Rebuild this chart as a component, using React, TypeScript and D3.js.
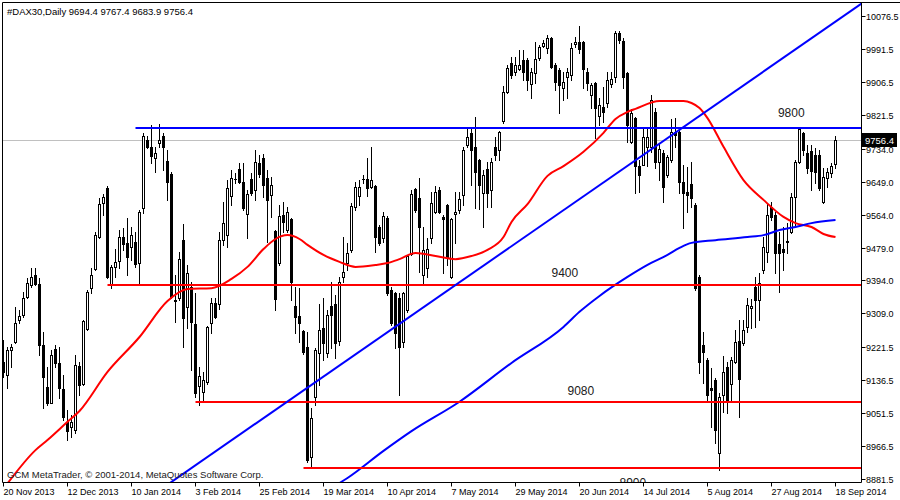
import React from 'react';
import * as d3 from 'd3';

// ---------- data ----------
const OPEN = [9183,9150,9215,9235,9292,9305,9351,9382,9408,9385,9227,9119,9078,9217,9181,9114,9029,9016,9008,9173,9127,9269,9374,9424,9506,9594,9633,9382,9429,9444,9506,9491,9480,9493,9439,9581,9757,9739,9710,9749,9767,9702,9669,9344,9349,9498,9325,9377,9282,9122,9106,9132,9284,9336,9334,9498,9511,9612,9656,9682,9648,9566,9656,9627,9697,9710,9658,9615,9522,9439,9563,9524,9553,9328,9302,9264,9222,8938,9093,9207,9271,9207,9328,9334,9238,9403,9439,9473,9584,9612,9656,9656,9635,9638,9532,9504,9555,9369,9362,9349,9235,9318,9462,9630,9607,9408,9426,9504,9571,9627,9558,9589,9403,9566,9576,9615,9744,9775,9739,9705,9620,9682,9627,9739,9731,9806,9880,9955,9932,9940,9963,9963,9901,9930,9968,9999,9994,10020,9950,9937,9891,9919,9924,10004,10009,10009,9932,9873,9904,9818,9842,9852,9901,9919,10033,10012,9930,9751,9813,9690,9692,9739,9739,9829,9700,9723,9666,9705,9777,9777,9648,9622,9643,9589,9403,9227,9189,9116,9137,8949,9098,9171,9127,9184,9238,9233,9274,9323,9377,9344,9421,9467,9584,9563,9488,9475,9496,9519,9609,9700,9775,9723,9728,9718,9718,9596,9658,9671,9694.4];
const HIGH = [9240,9222,9230,9325,9318,9364,9400,9426,9426,9400,9261,9171,9215,9227,9222,9150,9060,9047,9202,9184,9292,9369,9426,9519,9607,9617,9638,9434,9475,9524,9529,9555,9532,9519,9576,9775,9767,9795,9739,9798,9775,9731,9674,9408,9467,9540,9434,9390,9362,9171,9158,9277,9349,9349,9519,9596,9653,9679,9671,9697,9697,9627,9671,9731,9718,9720,9679,9661,9524,9589,9596,9584,9555,9377,9374,9266,9261,9065,9220,9334,9349,9318,9390,9357,9403,9506,9491,9594,9648,9653,9666,9710,9739,9641,9537,9571,9560,9377,9365,9362,9364,9460,9627,9633,9658,9532,9504,9622,9638,9635,9563,9592,9555,9622,9622,9739,9788,9788,9816,9707,9679,9700,9710,9764,9779,9896,9950,9971,9971,9989,9989,9968,9942,10009,10002,10015,10028,10022,9955,9942,9932,9942,10007,10022,10051,10012,9942,9904,9906,9865,9893,9932,9932,10038,10038,10020,9932,9837,9816,9705,9790,9790,9873,9839,9749,9731,9718,9811,9813,9782,9692,9687,9700,9594,9408,9261,9194,9168,9142,9104,9199,9184,9197,9266,9292,9292,9349,9346,9403,9413,9506,9594,9596,9571,9519,9532,9542,9620,9705,9788,9777,9744,9744,9736,9731,9684,9684,9697,9767.4];
const LOW = [9145,9116,9171,9233,9284,9300,9349,9377,9382,9202,9065,9073,9078,9171,9091,9034,8982,8990,9000,9098,9124,9266,9362,9421,9504,9563,9400,9374,9403,9426,9473,9408,9447,9429,9382,9568,9736,9697,9674,9739,9679,9602,9349,9287,9344,9222,9271,9163,9093,9073,9085,9127,9258,9297,9321,9486,9480,9589,9646,9646,9576,9504,9615,9602,9661,9609,9493,9558,9318,9434,9519,9519,9344,9258,9235,9205,8925,8910,9073,9124,9189,9197,9220,9194,9227,9390,9421,9467,9576,9589,9646,9612,9633,9467,9486,9493,9357,9279,9220,9098,9222,9313,9460,9571,9416,9382,9403,9491,9568,9568,9413,9434,9400,9491,9568,9589,9739,9641,9581,9579,9532,9584,9584,9705,9705,9800,9878,9917,9924,9937,9911,9886,9865,9904,9963,9997,9981,9942,9886,9826,9860,9865,9911,9997,9981,9891,9886,9839,9762,9795,9803,9842,9893,9906,10007,9891,9751,9749,9620,9622,9692,9690,9726,9684,9653,9596,9661,9700,9739,9620,9529,9571,9584,9369,9155,9129,9080,9016,8974,8905,9055,9052,9080,9181,9042,9227,9261,9271,9274,9292,9413,9442,9550,9413,9364,9421,9465,9517,9537,9697,9718,9671,9627,9646,9627,9594,9635,9661,9683.9];
const CLOSE = [9158,9215,9222,9284,9302,9349,9388,9403,9385,9227,9145,9078,9202,9181,9116,9042,9005,9029,9176,9124,9289,9364,9408,9511,9591,9609,9403,9429,9442,9506,9488,9455,9511,9437,9571,9767,9739,9715,9723,9757,9739,9648,9351,9341,9449,9297,9413,9287,9104,9147,9137,9274,9336,9300,9498,9542,9633,9658,9655,9648,9581,9617,9620,9700,9669,9641,9602,9641,9346,9560,9545,9571,9390,9300,9284,9210,8930,9039,9215,9266,9233,9305,9305,9233,9390,9416,9465,9586,9635,9635,9655,9633,9653,9506,9491,9560,9362,9284,9258,9222,9362,9457,9617,9576,9532,9473,9475,9594,9622,9571,9553,9455,9553,9571,9604,9731,9764,9731,9674,9641,9666,9620,9700,9718,9777,9880,9942,9924,9950,9950,9932,9911,9932,9966,9997,10007,10020,9945,9906,9899,9906,9932,9994,10009,9991,9940,9904,9899,9839,9847,9829,9911,9914,10033,10015,9919,9795,9826,9690,9666,9764,9764,9860,9700,9733,9635,9713,9777,9770,9648,9620,9615,9607,9374,9184,9210,9098,9111,9008,9093,9158,9083,9189,9235,9140,9266,9331,9328,9344,9388,9480,9563,9558,9465,9465,9467,9493,9609,9700,9785,9731,9684,9676,9674,9633,9661,9674,9690,9756.4];

const DATE_LABELS = ['20 Nov 2013','12 Dec 2013','10 Jan 2014','3 Feb 2014','25 Feb 2014','19 Mar 2014','10 Apr 2014','7 May 2014','29 May 2014','20 Jun 2014','14 Jul 2014','5 Aug 2014','27 Aug 2014','18 Sep 2014'];
const DATE_STEP = 16;
const PRICE_TICKS = [10076.5,9991.5,9906.5,9821.5,9734.0,9649.0,9564.0,9479.0,9394.0,9309.0,9221.5,9136.5,9051.5,8966.5,8881.5];

const RED_MA_BARS = [1,8,11,16,19,26,34,41,46,52,57,61,65,68,71,74,76,80,84,88,93,96,99,103,108,113,117,121,125,127,131,136,140,145,150,153,156,158,164,170,172,174,176,180,185,190,195,198,202,205,208];
const RED_MA_VALUES = [8870,8956,8982,9029,9057,9158,9248,9341,9372,9374,9398,9429,9475,9501,9511,9501,9486,9460,9442,9429,9434,9439,9449,9465,9457,9449,9457,9473,9506,9545,9591,9664,9689,9726,9775,9811,9829,9837,9857,9857,9852,9839,9813,9739,9653,9602,9558,9542,9532,9514,9506];
const BLUE_MA_BARS = [84,86,95,102,114,127,140,144,149,156,161,166,169,172,178,186,190,194,198,202,208];
const BLUE_MA_VALUES = [8871,8884,8954,9005,9081,9181,9274,9313,9354,9403,9434,9460,9478,9491,9498,9506,9511,9524,9532,9542,9550];

const TREND_BARS = [42, 214];
const TREND_PRICES = [8874, 10105];

const LEVEL_PRICES = [9787.5, 9381, 9080, 8910];
const LEVEL_START_BARS = [33, 26, 48, 75];
const LEVEL_COLORS = ['#0000ff', '#ff0000', '#ff0000', '#ff0000'];
const LABEL_TEXTS = ['9800', '9400', '9080', '8900'];
const LABEL_BARS = [193.6, 137, 141, 154];
const LABEL_PRICES = [9816, 9403, 9098, 8862];

const TITLE = '#DAX30,Daily  9694.4 9767.4 9683.9 9756.4';
const COPYRIGHT = 'GCM MetaTrader, \u00a9 2001-2014, MetaQuotes Software Corp.';

// ---------- layout ----------
const W = 900, H = 500;
const L = 2.5, T = 2.5, R = 861.5, B = 482.5;
const FONT = '"Liberation Sans", Arial, sans-serif';

export default function App() {
  const n = OPEN.length;
  const x = d3.scaleLinear().domain([0, n - 1]).range([3.5, 3.5 + 4 * (n - 1)]);
  const y = d3.scaleLinear().domain([8881.5, 10076.5]).range([479, 16.04]);
  const last = CLOSE[n - 1];

  const maLine = d3.line<[number, number]>()
    .x(d => x(d[0]))
    .y(d => y(d[1]))
    .curve(d3.curveMonotoneX);
  const redPts = RED_MA_BARS.map((b, i) => [b, RED_MA_VALUES[i]] as [number, number]);
  const bluePts = BLUE_MA_BARS.map((b, i) => [b, BLUE_MA_VALUES[i]] as [number, number]);

  const slope = (TREND_PRICES[1] - TREND_PRICES[0]) / (TREND_BARS[1] - TREND_BARS[0]);
  const tb0 = TREND_BARS[0] - 20, tb1 = TREND_BARS[1] + 20;
  const tp = (b: number) => TREND_PRICES[0] + slope * (b - TREND_BARS[0]);

  const candles = OPEN.map((o, i) => {
    const c = CLOSE[i];
    const cx = Math.round(x(i) - 0.5) + 0.5;
    const yH = Math.round(y(HIGH[i]));
    const yL = Math.round(y(LOW[i]));
    const yO = Math.round(y(o));
    const yC = Math.round(y(c));
    const top = Math.min(yO, yC), bot = Math.max(yO, yC);
    const bull = c >= o;
    return (
      <g key={i}>
        <line x1={cx} x2={cx} y1={yH} y2={yL + 1} stroke="#000" strokeWidth={1} />
        {bot - top < 1 ? (
          <line x1={cx - 1.5} x2={cx + 1.5} y1={top + 0.5} y2={top + 0.5} stroke="#000" strokeWidth={1} />
        ) : bull ? (
          <rect x={cx - 1} y={top + 0.5} width={2} height={bot - top} fill="#fff" stroke="#000" strokeWidth={1} />
        ) : (
          <rect x={cx - 1.5} y={top} width={3} height={bot - top + 1} fill="#000" />
        )}
      </g>
    );
  });

  const yLast = Math.round(y(last)) + 0.5;

  return (
    <svg width={W} height={H} style={{ position: 'absolute', left: 0, top: 0, background: '#fff' }}
      fontFamily={FONT}>
      <defs>
        <clipPath id="plot">
          <rect x={L} y={T} width={R - L} height={B - T} />
        </clipPath>
      </defs>
      <rect x={0} y={0} width={W} height={H} fill="#fff" />
      {/* bid line */}
      <line x1={L} x2={R} y1={yLast} y2={yLast} stroke="#c0c0c0" strokeWidth={1} />
      <g clipPath="url(#plot)">
        {candles}
        <path d={maLine(redPts) || ''} fill="none" stroke="#ff0000" strokeWidth={2} />
        <path d={maLine(bluePts) || ''} fill="none" stroke="#0000ff" strokeWidth={2} />
        {LEVEL_PRICES.map((p, i) => {
          const yy = Math.round(y(p));
          return <line key={i} x1={x(LEVEL_START_BARS[i])} x2={R} y1={yy} y2={yy}
            stroke={LEVEL_COLORS[i]} strokeWidth={2} />;
        })}
        <line x1={x(tb0)} y1={y(tp(tb0))} x2={x(tb1)} y2={y(tp(tb1))} stroke="#0000ff" strokeWidth={2} />
        {LABEL_TEXTS.map((t, i) => (
          <text key={i} x={x(LABEL_BARS[i])} y={y(LABEL_PRICES[i])} fontSize={12} fill="#202020">{t}</text>
        ))}
      </g>
      {/* frame */}
      <line x1={L} x2={W} y1={T} y2={T} stroke="#000" />
      <line x1={L} x2={L} y1={T} y2={B} stroke="#000" />
      <line x1={L} x2={R} y1={B} y2={B} stroke="#000" />
      <line x1={R} x2={R} y1={T} y2={B} stroke="#000" />
      {/* title + copyright */}
      <text x={7} y={15} fontSize={9.5} fill="#000">{TITLE}</text>
      <text x={7} y={478} fontSize={9.5} fill="#202020">{COPYRIGHT}</text>
      {/* price axis */}
      {PRICE_TICKS.map((p, i) => {
        const yy = Math.round(y(p)) + 0.5;
        return (
          <g key={i}>
            <line x1={R} x2={R + 4} y1={yy} y2={yy} stroke="#000" />
            <text x={866} y={yy + 3.5} fontSize={9} fill="#000">{p.toFixed(1)}</text>
          </g>
        );
      })}
      <rect x={862} y={yLast - 7.5} width={35} height={14} fill="#000" />
      <text x={865} y={yLast + 3.5} fontSize={9.5} fill="#fff">{last.toFixed(1)}</text>
      {/* time axis */}
      {DATE_LABELS.map((d, i) => {
        const xx = Math.round(x(i * DATE_STEP) - 0.5) + 0.5;
        return (
          <g key={i}>
            <line x1={xx} x2={xx} y1={B} y2={B + 4} stroke="#000" />
            <text x={xx} y={495} fontSize={9} fill="#000">{d}</text>
          </g>
        );
      })}
    </svg>
  );
}
